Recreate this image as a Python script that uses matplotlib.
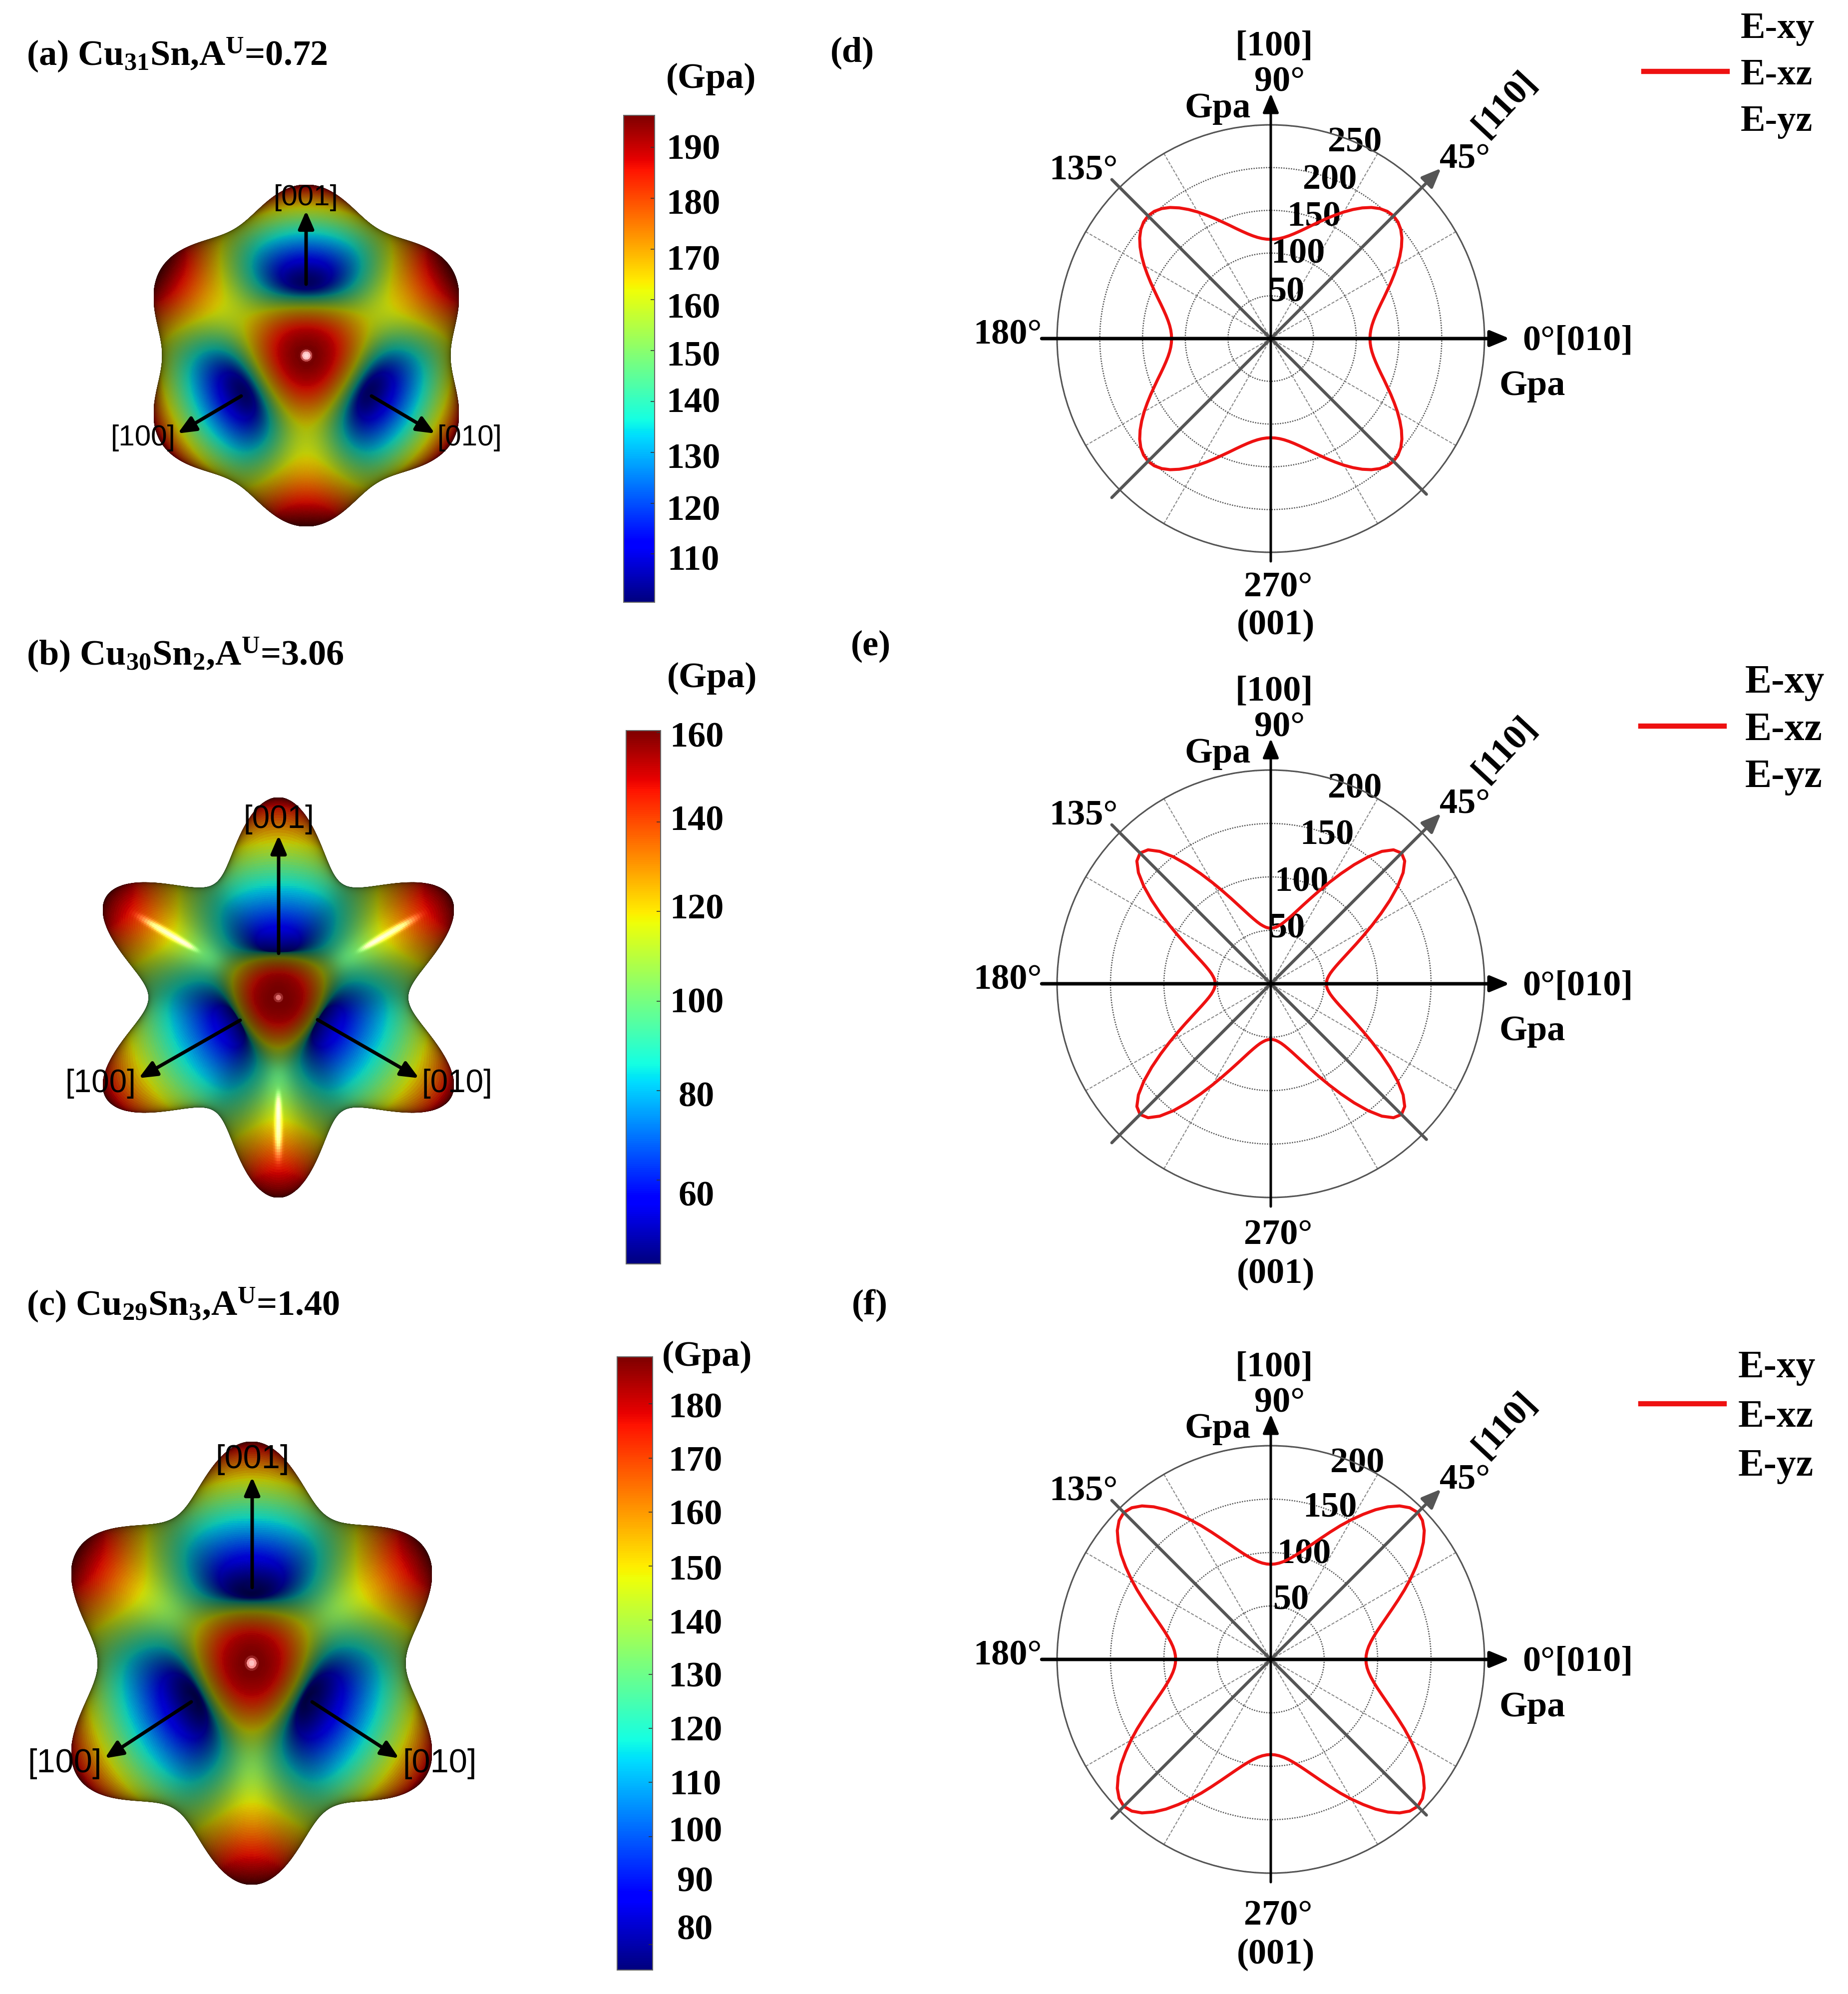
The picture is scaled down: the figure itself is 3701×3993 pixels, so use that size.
import numpy as np
import matplotlib
matplotlib.use('Agg')
import matplotlib.pyplot as plt
from matplotlib.collections import PolyCollection
from matplotlib.colors import Normalize
from matplotlib.cm import ScalarMappable
from matplotlib.lines import Line2D
from matplotlib.transforms import ScaledTranslation

plt.rcParams['font.family'] = ['Liberation Serif', 'DejaVu Serif']
plt.rcParams['mathtext.fontset'] = 'custom'
plt.rcParams['mathtext.rm'] = 'Liberation Serif:bold'
plt.rcParams['mathtext.bf'] = 'Liberation Serif:bold'
plt.rcParams['mathtext.default'] = 'rm'

W, H = 3701, 3993

# ---- values ----
titles = [r'(a) Cu$_{31}$Sn,A$^{U}$=0.72', r'(b) Cu$_{30}$Sn$_{2}$,A$^{U}$=3.06', r'(c) Cu$_{29}$Sn$_{3}$,A$^{U}$=1.40']
panel_letters = ['(d)', '(e)', '(f)']
E_100 = [103.0, 46.0, 74.0]     # modulus along <100>, surface panels
E_111 = [196.0, 160.0, 188.0]   # modulus along <111>, surface panels
cbar_vmin = [100.5, 41.3, 75.3]
cbar_vmax = [196.3, 160.4, 188.7]
cbar_ticks_a = [110, 120, 130, 140, 150, 160, 170, 180, 190]
cbar_ticks_b = [60, 80, 100, 120, 140, 160]
cbar_ticks_c = [80, 90, 100, 110, 120, 130, 140, 150, 160, 170, 180]

theta_quadrant = [0, 2.5, 5, 7.5, 10, 12.5, 15, 17.5, 20, 22.5, 25, 27.5, 30, 32.5, 35, 37.5, 40, 42.5, 45]
E_xz_d = [116.0, 116.4, 117.5, 119.4, 122.1, 125.6, 129.9, 135.0, 141.0, 147.6, 155.0, 162.8, 171.0, 179.0, 186.6, 193.3, 198.5, 201.8, 203.0]
E_xz_e = [52.0, 52.3, 53.1, 54.6, 56.6, 59.4, 63.0, 67.5, 73.1, 80.0, 88.2, 98.0, 109.4, 122.2, 136.0, 149.7, 161.7, 170.0, 173.0]
E_xz_f = [89.0, 89.4, 90.5, 92.4, 95.1, 98.7, 103.2, 108.7, 115.2, 122.8, 131.5, 141.1, 151.0, 161.0, 171.0, 180.0, 187.5, 192.5, 194.5]
r_ticks_d = [50, 100, 150, 200, 250]
r_ticks_ef = [50, 100, 150, 200]
legend_labels = ['E-xy', 'E-xz', 'E-yz']

# ---- layout (pixels of the full figure) ----
surf_box = [(308, 919, 370, 1054), (206, 909, 1597, 2398), (143, 865, 2887, 3774)]
spec_gain = [0.25, 1.0, 0.45]
spec_power = [900, 110, 300]
spot_gain = [0.85, 0.45, 0.75]
spot_deg = [1.5, 0.9, 1.3]
cbar_box = [(1249, 1311, 231, 1206), (1254, 1323, 1463, 2531), (1236, 1307, 2717, 3945)]
cbar_ticks = [cbar_ticks_a, cbar_ticks_b, cbar_ticks_c]
cbar_pad = [77, 72, 85]
cbar_label_dy = [[7, 9, 7, -3, 5, 11, 17, 7, -2], [26, 7, -2, -11, -8, 4], [-36, -23, -15, -1, 0, 0, 2, 2, 0, 1, 2]]
gpa_pos = [(1424, 158), (1426, 1358), (1416, 2717)]
title_pos = [(53, 110), (53, 1311), (53, 2613)]
letter_pos = [(1663, 106), (1704, 1294), (1706, 2614)]
axis_arrows = [
    [((613, 569), (613, 422)), ((483, 793), (356, 868)), ((744, 793), (871, 868))],
    [((558, 1909), (558, 1673)), ((481, 2043), (278, 2159)), ((636, 2042), (839, 2159))],
    [((505, 3179), (505, 2958)), ((383, 3408), (210, 3521)), ((625, 3408), (799, 3521))],
]
axis_label_pos = [
    [(613, 396), (287, 877), (941, 877)],
    [(558, 1641), (201, 2170), (915, 2170)],
    [(505, 2923), (129, 3532), (880, 3532)],
]
axis_label_size = [42, 46, 48]
axis_names = ['[001]', '[100]', '[010]']

polar_center = [(2545, 678), (2545, 1970), (2545, 3323)]
polar_R = 428
polar_curves = [E_xz_d, E_xz_e, E_xz_f]
polar_rmax = [250, 200, 200]
polar_rticks = [r_ticks_d, r_ticks_ef, r_ticks_ef]
rlabel_angle = [68, 69, 69]
rlabel_nudge = [[(0, -13), (-10, -10), (-10, -5), (-10, 0), (8, 5)],
                [(-5, -10), (-15, -3), (-3, 3), (15, 10)],
                [(3, -18), (-10, -10), (3, -3), (20, 8)]]
low_dy = [(494, 569), (499, 576), (509, 586)]
legend_pos = [(3292, 151, 53.5, 0.34, 0.36, 0), (3286, 1462, 57.5, 0.27, 0.52, 0), (3286, 2838, 56, 0.35, 0.35, 13)]

fig = plt.figure(figsize=(W / 100, H / 100), dpi=100, facecolor='white')


def fx(x):
    return x / W


def fy(y):
    return 1 - y / H


def add_axes_px(x0, x1, y0, y1, **kw):
    return fig.add_axes([fx(x0), fy(y1), (x1 - x0) / W, (y1 - y0) / H], **kw)


def label(x, y, s, size=52, ha='center', va='center', **kw):
    kw.setdefault('fontweight', 'bold')
    return fig.text(fx(x), fy(y), s, fontsize=size, ha=ha, va=va, **kw)


def fig_arrow(p0, p1, color='k', lw=5.0, style='-|>,head_length=0.6,head_width=0.26', ms=36):
    fig.add_artist(matplotlib.patches.FancyArrowPatch(
        (fx(p0[0]), fy(p0[1])), (fx(p1[0]), fy(p1[1])), transform=fig.transFigure,
        arrowstyle=style, mutation_scale=ms, lw=lw, color=color, shrinkA=0, shrinkB=0, zorder=6))


view = np.array([1, 1, 1]) / np.sqrt(3)
right = np.array([-1, 1, 0]) / np.sqrt(2)
up = np.array([-1, -1, 2]) / np.sqrt(6)


def draw_surface(ax, e100, e111, vmin, vmax, gain, power, sp_gain, sp_deg):
    th = np.linspace(0, np.pi, 301)
    ph = np.linspace(0, 2 * np.pi, 601)
    T, P = np.meshgrid(th, ph, indexing='ij')
    a, b, c = np.sin(T) * np.cos(P), np.sin(T) * np.sin(P), np.cos(T)
    d = a[..., None] * right + b[..., None] * up + c[..., None] * view
    l, m, n = d[..., 0], d[..., 1], d[..., 2]
    J = l**2 * m**2 + m**2 * n**2 + n**2 * l**2
    E = 1 / (1 / e100 - 3 * (1 / e100 - 1 / e111) * J)
    X, Y, Z = E * a, E * b, E * c
    p = np.stack([X, Y, Z], -1)
    d1 = p[1:, 1:] - p[:-1, :-1]
    d2 = p[1:, :-1] - p[:-1, 1:]
    nrm = np.cross(d1, d2)
    nrm /= np.linalg.norm(nrm, axis=-1, keepdims=True) + 1e-12
    cen = (p[1:, 1:] + p[:-1, :-1] + p[1:, :-1] + p[:-1, 1:]) / 4
    sign = np.sign(np.sum(nrm * cen, axis=-1, keepdims=True))
    nrm = nrm * sign
    nz = nrm[..., 2]
    Ec = (E[1:, 1:] + E[:-1, :-1] + E[1:, :-1] + E[:-1, 1:]) / 4
    keep = nz > -0.02
    rgb = plt.get_cmap('jet')(Normalize(vmin, vmax)(Ec))[..., :3]
    nzp = np.clip(nz, 0, 1)
    shade = 0.25 + 0.62 * nzp**0.9
    Tc = np.degrees((T[1:, 1:] + T[:-1, :-1]) / 2)
    spec = gain * nzp**power
    spec = spec * (Tc > 12) + sp_gain * np.exp(-(Tc / sp_deg)**4)
    col = np.clip(rgb * shade[..., None] + spec[..., None], 0, 1)
    verts = np.stack([
        np.stack([X[:-1, :-1], Y[:-1, :-1]], -1), np.stack([X[1:, :-1], Y[1:, :-1]], -1),
        np.stack([X[1:, 1:], Y[1:, 1:]], -1), np.stack([X[:-1, 1:], Y[:-1, 1:]], -1)], -2)
    order = np.argsort(cen[..., 2][keep])
    coll = PolyCollection(verts[keep][order], facecolors=col[keep][order], edgecolors='face', linewidths=0.7)
    ax.add_collection(coll)
    ax.set_xlim(X.min(), X.max())
    ax.set_ylim(Y.min(), Y.max())
    ax.axis('off')


for i in range(3):
    # left: directional modulus surface
    x0, x1, y0, y1 = surf_box[i]
    ax = add_axes_px(x0, x1, y0, y1)
    draw_surface(ax, E_100[i], E_111[i], cbar_vmin[i], cbar_vmax[i], spec_gain[i], spec_power[i], spot_gain[i], spot_deg[i])
    for (p0, p1), (tx, ty), nm in zip(axis_arrows[i], axis_label_pos[i], axis_names):
        fig_arrow(p0, p1)
        t = label(tx, ty, nm, size=axis_label_size[i], fontweight='normal', family='Liberation Sans', zorder=7)

    # colorbar
    cx0, cx1, cy0, cy1 = cbar_box[i]
    cax = add_axes_px(cx0, cx1, cy0, cy1)
    cb = fig.colorbar(ScalarMappable(Normalize(cbar_vmin[i], cbar_vmax[i]), 'jet'), cax=cax)
    cb.set_ticks(cbar_ticks[i])
    cb.outline.set_edgecolor('#666666')
    cb.outline.set_linewidth(1.5)
    cax.tick_params(axis='y', direction='in', length=6, width=1.2, color='#333333', pad=cbar_pad[i] * 0.72, labelsize=52)
    for tl, dy in zip(cax.get_yticklabels(), cbar_label_dy[i]):
        tl.set_ha('center')
        tl.set_fontweight('bold')
        tl.set_transform(tl.get_transform() + ScaledTranslation(0, -dy / 100, fig.dpi_scale_trans))

    label(*gpa_pos[i], '(Gpa)', size=52)
    label(title_pos[i][0], title_pos[i][1], titles[i], size=52, ha='left')
    label(letter_pos[i][0], letter_pos[i][1], panel_letters[i], size=52, ha='left')

    # right: polar curve
    cx, cy = polar_center[i]
    R = polar_R
    pax = add_axes_px(cx - R, cx + R, cy - R, cy + R, projection='polar', facecolor='none')
    rmax = polar_rmax[i]
    q = np.array(polar_curves[i], dtype=float)
    tq = np.array(theta_quadrant, dtype=float)
    t90 = np.concatenate([tq, 90 - tq[-2::-1]])
    r90 = np.concatenate([q, q[-2::-1]])
    tt = np.concatenate([t90[:-1] + k * 90 for k in range(4)] + [[360.0]])
    rr = np.concatenate([r90[:-1]] * 4 + [[r90[0]]])
    pax.plot(np.radians(tt), rr, color='#ee1111', lw=4.4, zorder=3)
    pax.set_ylim(0, rmax)
    pax.set_thetagrids([0, 30, 60, 90, 120, 150, 180, 210, 240, 270, 300, 330], labels=[''] * 12)
    pax.set_rgrids(polar_rticks[i], labels=[str(v) for v in polar_rticks[i]], angle=rlabel_angle[i])
    pax.xaxis.grid(True, color='#8a8a8a', lw=1.5, ls=(0, (3, 1.5)))
    pax.yaxis.grid(True, color='#555555', lw=1.8, ls=(0, (1, 1)))
    pax.spines['polar'].set_color('#555555')
    pax.spines['polar'].set_linewidth(2.2)
    pax.tick_params(axis='y', labelsize=52, pad=0)
    for tl, (ndx, ndy) in zip(pax.get_yticklabels(), rlabel_nudge[i]):
        tl.set_fontweight('bold')
        tl.set_ha('center')
        tl.set_va('center')
        tl.set_zorder(8)
        tl.set_transform(tl.get_transform() + ScaledTranslation(ndx / 100, -ndy / 100, fig.dpi_scale_trans))

    def parrow(ang1, f1, ang2, f2, color, lw, style):
        pax.annotate('', xy=(np.radians(ang2), f2 * rmax), xytext=(np.radians(ang1), f1 * rmax),
                     xycoords='data', textcoords='data', annotation_clip=False,
                     arrowprops=dict(arrowstyle=style, mutation_scale=36, lw=lw, color=color, shrinkA=0, shrinkB=0), zorder=5)

    head = '-|>,head_length=0.65,head_width=0.27'
    parrow(225, 1.052, 45, 1.127, '#555555', 4.4, head)
    parrow(135, 1.052, 315, 1.03, '#555555', 4.4, '-')
    parrow(180, 1.072, 0, 1.118, 'k', 5.0, head)
    parrow(270, 1.042, 90, 1.147, 'k', 3.6, head)

    label(cx + 7, cy - 585, '[100]')
    label(cx + 18, cy - 513, '90°')
    label(cx - 106, cy - 461, 'Gpa')
    label(cx - 375, cy - 336, '135°')
    label(cx + 389, cy - 359, '45°')
    label(cx + 469, cy - 470, '[110]', rotation=47)
    label(cx + 504, cy + 5, '0°[010]', ha='left')
    label(cx + 524, cy + 96, 'Gpa')
    label(cx - 527, cy - 7, '180°')
    label(cx + 15, cy + low_dy[i][0] + 5, '270°')
    label(cx + 10, cy + low_dy[i][1] + 5, '(001)')

    lx, ly, lsize, lspace, lpad, line_up = legend_pos[i]
    handles = [Line2D([], [], color='none', lw=7.5), Line2D([], [], color='#ee1111', lw=7.5), Line2D([], [], color='none', lw=7.5)]
    leg = fig.legend(handles, legend_labels, loc='center left', bbox_to_anchor=(fx(lx), fy(ly)),
                     frameon=False, borderpad=0, borderaxespad=0, handlelength=167 / (lsize * 100 / 72),
                     handletextpad=lpad, labelspacing=lspace,
                     prop={'family': 'Liberation Serif', 'weight': 'bold', 'size': lsize})
    red = leg.get_lines()[1]
    red.set_ydata(np.asarray(red.get_ydata(), dtype=float) + line_up)

fig.savefig('out.png', dpi=100, facecolor='white')
